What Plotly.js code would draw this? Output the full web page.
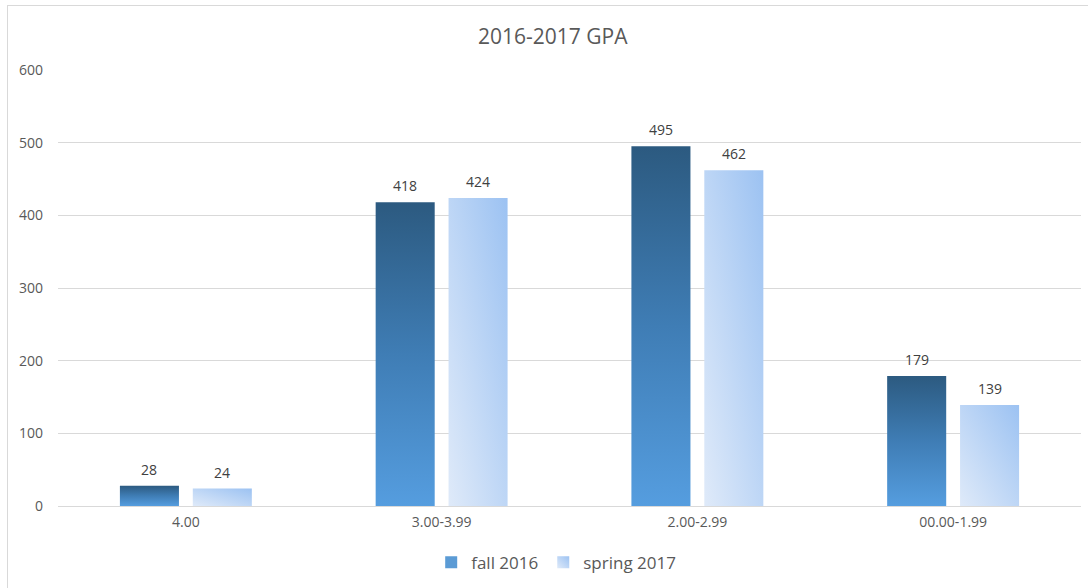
<!DOCTYPE html>
<html>
<head>
<meta charset="utf-8">
<script src="https://cdn.plot.ly/plotly-3.0.1.min.js"></script>
<style>
  html, body { margin: 0; padding: 0; background: #fff; }
  #wrap { position: relative; width: 1088px; height: 588px; overflow: hidden; }
  #chart { width: 1088px; height: 588px; }
  #frame { position: absolute; left: 7px; top: 5px; width: 1200px; height: 700px;
           border-left: 1px solid #d9d9d9; border-top: 1px solid #d9d9d9; pointer-events: none; }
</style>
</head>
<body>
<div id="wrap">
  <div id="chart"></div>
  <div id="frame"></div>
</div>
<script>
const categories = ["4.00", "3.00-3.99", "2.00-2.99", "00.00-1.99"];
const fall2016 = [28, 418, 495, 179];
const spring2017 = [24, 424, 462, 139];
const seriesNames = ["fall 2016", "spring 2017"];

const FONT = "'Open Sans', 'Noto Sans', sans-serif";
const bargap = 0.43;
const bargroupgap = 0.19;

const traces = [
  { type: "bar", name: seriesNames[0], x: categories, y: fall2016,
    marker: { color: "#5b9bd5", line: { width: 0 } }, hoverinfo: "none" },
  { type: "bar", name: seriesNames[1], x: categories, y: spring2017,
    marker: { color: "#bcd5f5", line: { width: 0 } }, hoverinfo: "none" }
];

const annotations = [];
const off = (1 - bargap) / 4;
[fall2016, spring2017].forEach((vals, s) => {
  vals.forEach((v, i) => {
    annotations.push({
      x: i + (s === 0 ? -off : off), y: v, xref: "x", yref: "y",
      text: String(v), showarrow: false, yanchor: "bottom", yshift: 5,
      font: { family: FONT, size: 14, color: "#404040" }
    });
  });
});

const layout = {
  width: 1088, height: 588,
  margin: { l: 58, r: 7, t: 70, b: 80 },
  paper_bgcolor: "#ffffff", plot_bgcolor: "#ffffff",
  title: { text: "2016-2017 GPA", x: 0.508, xanchor: "center", y: 0.937, yanchor: "middle",
           font: { family: FONT, size: 21, color: "#595959" } },
  barmode: "group", bargap: bargap, bargroupgap: bargroupgap,
  xaxis: { type: "category", showgrid: false, zeroline: false, showline: false,
           ticks: "", tickfont: { family: FONT, size: 14, color: "#595959" },
           ticklabelstandoff: 6, fixedrange: true },
  yaxis: { range: [0, 600], dtick: 100, showgrid: true, gridcolor: "#d9d9d9", gridwidth: 1,
           zeroline: true, zerolinecolor: "#d9d9d9", zerolinewidth: 1, showline: false,
           ticks: "", tickfont: { family: FONT, size: 14, color: "#595959" },
           ticklabelstandoff: 14, fixedrange: true },
  showlegend: true,
  legend: { orientation: "h", x: 0.487, xanchor: "center", y: -0.13, yanchor: "middle",
            font: { family: FONT, size: 17, color: "#595959" }, itemwidth: 30, tracegroupgap: 0 },
  annotations: annotations
};

function addGradients(gd) {
  const svg = gd.querySelector("svg.main-svg");
  const NS = "http://www.w3.org/2000/svg";
  let defs = svg.querySelector("defs");
  if (!defs) { defs = document.createElementNS(NS, "defs"); svg.insertBefore(defs, svg.firstChild); }
  function grad(id, x1, y1, x2, y2, stops) {
    const g = document.createElementNS(NS, "linearGradient");
    g.setAttribute("id", id);
    g.setAttribute("x1", x1); g.setAttribute("y1", y1);
    g.setAttribute("x2", x2); g.setAttribute("y2", y2);
    stops.forEach(([o, c]) => {
      const s = document.createElementNS(NS, "stop");
      s.setAttribute("offset", o); s.setAttribute("stop-color", c);
      g.appendChild(s);
    });
    defs.appendChild(g);
  }
  grad("gFall", "0", "0", "0", "1", [["0", "#2c5a80"], ["0.5", "#3f7db5"], ["1", "#559ddf"]]);
  grad("gSpring", "0", "1", "1", "0", [["0", "#dfeaf9"], ["1", "#9cc2f2"]]);
  const ids = ["gFall", "gSpring"];
  gd.querySelectorAll(".barlayer .trace").forEach((t, i) => {
    t.querySelectorAll("path").forEach(p => { p.style.fill = "url(#" + ids[i] + ")"; });
  });
  gd.querySelectorAll(".legend .traces").forEach((t, i) => {
    t.querySelectorAll(".legendpoints path").forEach(p => {
      p.style.fill = i === 0 ? "#5b9bd5" : "url(#gSpring)";
      p.style.stroke = "none";
    });
  });
}

Plotly.newPlot("chart", traces, layout, { displayModeBar: false, staticPlot: true })
  .then(addGradients);
</script>
</body>
</html>
